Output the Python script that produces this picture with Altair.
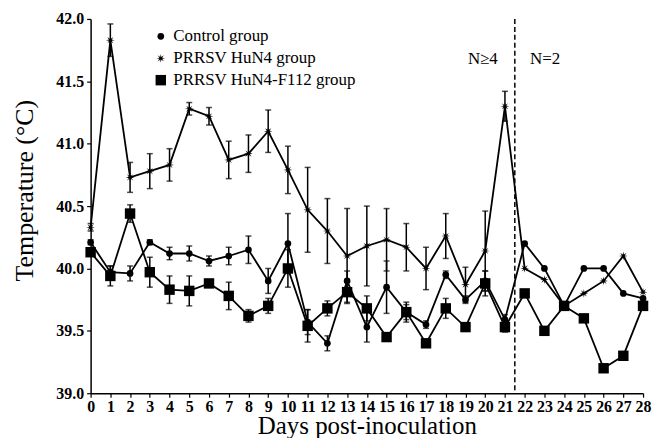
import math
import altair as alt
import pandas as pd

days = list(range(29))
groups = ["Control group", "PRRSV HuN4 group", "PRRSV HuN4-F112 group"]

control = [40.21, 39.97, 39.96, 40.21, 40.12, 40.12, 40.06, 40.10, 40.15, 39.90,
           40.20, 39.57, 39.40, 39.90, 39.53, 39.85, 39.65, 39.55, 39.95, 39.75,
           39.90, 39.59, 40.20, 40.00, 39.70, 40.00, 40.00, 39.80, 39.76]
control_sd = [0.02, 0.05, 0.06, 0.02, 0.05, 0.06, 0.04, 0.07, 0.11, 0.10,
              0.24, 0.10, 0.06, 0.08, 0.12, 0.21, 0.06, 0.03, 0.03, 0.03,
              0.08, 0.04, None, None, None, None, None, None, None]

hun4 = [40.33, 41.83, 40.73, 40.78, 40.83, 41.28, 41.22, 40.87, 40.92, 41.10,
        40.79, 40.47, 40.30, 40.10, 40.18, 40.23, 40.17, 40.00, 40.26, 39.87,
        40.14, 41.30, 40.00, 39.91, 39.70, 39.80, 39.90, 40.10, 39.81]
hun4_sd = [0.03, 0.13, 0.12, 0.14, 0.13, 0.05, 0.07, 0.15, 0.15, 0.17,
           0.19, 0.34, 0.26, 0.38, 0.32, 0.25, 0.19, 0.17, 0.18, 0.14,
           0.32, 0.12, None, None, None, None, None, None, None]

f112 = [40.13, 39.94, 40.44, 39.97, 39.83, 39.82, 39.88, 39.78, 39.62, 39.70,
        40.00, 39.54, 39.68, 39.81, 39.68, 39.45, 39.65, 39.40, 39.68, 39.53,
        39.88, 39.53, 39.80, 39.50, 39.70, 39.60, 39.20, 39.30, 39.70]
f112_sd = [0.03, 0.08, 0.07, 0.12, 0.11, 0.12, 0.03, 0.11, 0.05, 0.06,
           0.15, 0.13, 0.06, 0.08, 0.10, 0.02, 0.08, 0.03, 0.08, 0.03,
           0.10, 0.04, None, None, None, None, None, None, None]

y_ticks = [39.0, 39.5, 40.0, 40.5, 41.0, 41.5, 42.0]
divider_day = [21.5]
note_labels = ["N\u22654", "N=2"]
note_days = [19.88, 23.04]
note_temps = [41.68, 41.68]

rows = []
for g, vals, sds in [(groups[0], control, control_sd),
                     (groups[1], hun4, hun4_sd),
                     (groups[2], f112, f112_sd)]:
    for d, v, s in zip(days, vals, sds):
        rows.append({"group": g, "day": d, "temp": v,
                     "lo": (v - s) if s is not None else None,
                     "hi": (v + s) if s is not None else None})
df = pd.DataFrame(rows)
err_df = df.dropna(subset=["lo"])

FONT = "Liberation Serif"

# filled 8-armed asterisk symbol, so it renders both in the plot and the legend
_pts = []
for k in range(16):
    ang = math.pi * k / 8.0
    r = 1.0 if k % 2 == 0 else 0.34
    _pts.append(f"{r * math.cos(ang):.3f} {r * math.sin(ang):.3f}")
ASTERISK = "M " + " L ".join(_pts) + " Z"

xs = alt.Scale(domain=[0, 28], nice=False, zero=False)
ys = alt.Scale(domain=[39, 42], nice=False, zero=False)

x_axis = alt.Axis(values=days, format="d", title="Days post-inoculation",
                  labelFont=FONT, labelFontWeight="bold", labelFontSize=16,
                  labelColor="black", labelPadding=1, labelOverlap=False,
                  labelFlush=False, tickSize=4, tickColor="black", tickWidth=1.2,
                  domainColor="black", domainWidth=1.5, grid=False,
                  titleFont=FONT, titleFontSize=25, titleFontWeight="normal",
                  titleColor="black", titleBaseline="alphabetic", titleY=40)
y_axis = alt.Axis(values=y_ticks, format=".1f", title="Temperature (\u00b0C)",
                  labelFont=FONT, labelFontWeight="bold", labelFontSize=16,
                  labelColor="black", labelPadding=3, labelOverlap=False,
                  tickSize=4, tickColor="black", tickWidth=1.2, domainColor="black",
                  domainWidth=1.5, grid=False, titleFont=FONT, titleFontSize=26,
                  titleFontWeight="normal", titleColor="black",
                  titleX=-53, titleY=172)


def X(field):
    return alt.X(field, scale=xs, axis=x_axis)


def Y(field):
    return alt.Y(field, scale=ys, axis=y_axis)


base = alt.Chart(df)

lines = base.mark_line(color="black", strokeWidth=1.8).encode(
    x=X("day:Q"), y=Y("temp:Q"), detail="group:N")

err = alt.Chart(err_df)
rules = err.mark_rule(color="black", strokeWidth=1.5).encode(
    x=X("day:Q"), y=Y("lo:Q"), y2="hi:Q")
cap_hi = err.mark_tick(color="black", thickness=1.5, size=6, orient="horizontal").encode(
    x=X("day:Q"), y=Y("hi:Q"))
cap_lo = err.mark_tick(color="black", thickness=1.5, size=6, orient="horizontal").encode(
    x=X("day:Q"), y=Y("lo:Q"))

legend = alt.Legend(title=None, orient="none", legendX=62, legendY=9,
                    labelFont=FONT, labelFontSize=17, labelColor="black",
                    labelFontWeight="normal",
                    labelLimit=400, rowPadding=4, labelOffset=4,
                    symbolFillColor="black", symbolStrokeColor="black",
                    symbolOpacity=1)

points = base.mark_point(filled=True, opacity=1).encode(
    x=X("day:Q"),
    y=Y("temp:Q"),
    shape=alt.Shape("group:N",
                    scale=alt.Scale(domain=groups, range=["circle", ASTERISK, "square"]),
                    legend=legend),
    size=alt.Size("group:N", scale=alt.Scale(domain=groups, range=[45, 110, 80]),
                  legend=legend),
    fill=alt.value("black"),
)

divider = alt.Chart(pd.DataFrame({"d": divider_day})).mark_rule(
    color="black", strokeWidth=1.5, strokeDash=[5, 3]).encode(x=X("d:Q"))

notes = alt.Chart(pd.DataFrame({"t": note_labels, "d": note_days, "v": note_temps})).mark_text(
    font=FONT, fontSize=17, color="black").encode(
    x=X("d:Q"), y=Y("v:Q"), text="t:N")

chart = alt.layer(lines, rules, cap_hi, cap_lo, points, divider, notes).properties(
    width=555, height=376,
    autosize=alt.AutoSizeParams(type="none"),
    padding={"left": 83, "top": 10, "right": 12, "bottom": 44},
).configure_view(stroke=None).configure_legend(
    labelFont=FONT, labelFontSize=17, labelFontWeight="normal", labelColor="black")

chart.save("out.html", embed_options={"renderer": "svg", "actions": False})
